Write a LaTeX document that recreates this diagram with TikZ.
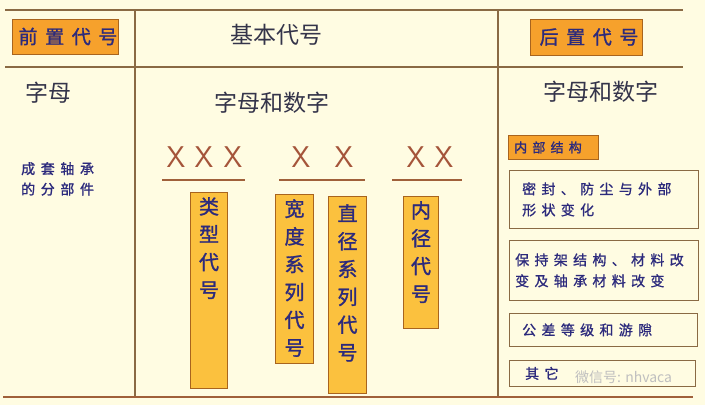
\documentclass[tikz,border=0pt]{standalone}
\usepackage{fontspec}
\usepackage{tikz}
\usetikzlibrary{calc}
\usetikzlibrary{positioning}
\newfontfamily\cjk{Noto Sans CJK SC}
\newfontfamily\cjkwide{Noto Sans CJK SC}[LetterSpace=38,FakeBold=1]
\newfontfamily\cjkbold{Noto Sans CJK SC}[LetterSpace=40,FakeBold=1.4]
\newfontfamily\cjkfat{Noto Sans CJK SC}[FakeBold=1.4]
\definecolor{paper}{HTML}{FFFCE2}
\definecolor{rule}{HTML}{8A6A44}
\definecolor{botrule}{HTML}{A0603A}
\definecolor{tagfill}{HTML}{F6A12C}
\definecolor{colfill}{HTML}{FBC13E}
\definecolor{colframe}{HTML}{A8641E}
\definecolor{navy}{HTML}{2C2A7C}
\definecolor{headtext}{HTML}{34344A}
\definecolor{crossred}{HTML}{A5553A}

\begin{document}
\begin{tikzpicture}[x=1pt, y=-1pt,
    table line/.style={draw=rule, line width=1.1pt},
    tag box/.style={draw=colframe, fill=tagfill, line width=0.9pt, inner sep=0pt, text=navy},
    col box/.style={draw=colframe, fill=colfill, line width=1pt, inner sep=0pt},
    col text/.style={text=navy, align=center, inner sep=0pt, anchor=north, font=\cjkfat\fontsize{20}{27.8}\selectfont},
    note box/.style={draw=rule, line width=0.8pt, inner sep=0pt},
    note text/.style={text=navy, align=left, inner sep=0pt, anchor=west, font=\cjkwide\fontsize{14}{21}\selectfont},
    head/.style={text=headtext, inner sep=0pt, font=\cjk\fontsize{23}{26}\selectfont},
    cross/.style={text=crossred, inner sep=0pt, font=\sffamily\fontsize{30}{30}\selectfont},
    underline/.style={draw=botrule, line width=1.2pt},
    ]

%% background and frame
\useasboundingbox (0,0) rectangle (705,405);
\fill[paper] (0,0) rectangle (705,405);
\coordinate (tl) at (5,10);   \coordinate (tr) at (683,10);
\coordinate (ml) at (5,67);   \coordinate (mr) at (683,67);
\coordinate (bl) at (3,397);  \coordinate (br) at (693,397);
\coordinate (v1t) at (135,10); \coordinate (v1b) at (135,397);
\coordinate (v2t) at (498,10); \coordinate (v2b) at (498,397);

\draw[table line] (tl) -- (tr);
\draw[table line] (ml) -- (mr);
\draw[table line] (v1t) -- (v1b);
\draw[table line] (v2t) -- (v2b);
\draw[draw=botrule, line width=1.6pt] (bl) -- (br);

%% header row
\node[tag box, minimum width=106, minimum height=35] (pre) at (65,36.5) {};
\node[text=navy, inner sep=0pt, font=\cjkbold\fontsize{19}{22}\selectfont] at ($(pre.center)+(3,0)$) {前置代号};
\node[head] (basic) at (276,35) {基本代号};
\node[tag box, minimum width=112, minimum height=36] (post) at (586,37) {};
\node[text=navy, inner sep=0pt, font=\cjkbold\fontsize{19}{22}\selectfont] at ($(post.center)+(3,0)$) {后置代号};

%% left column
\node[head] (letters) at (49,93) {字母};
\node[text=navy, align=left, inner sep=0pt, anchor=north west, font=\cjkbold\fontsize{14}{20.5}\selectfont] (parts) at (21,162) {成套轴承\\的分部件};

%% middle column
\node[head] (mixed) at (272,103) {字母和数字};
\node[cross] (x1) at (176,157) {X};
\node[cross] (x2) at (204,157) {X};
\node[cross] (x3) at (233,157) {X};
\node[cross] (x4) at (301,157) {X};
\node[cross] (x5) at (344,157) {X};
\node[cross] (x6) at (416,157) {X};
\node[cross] (x7) at (444,157) {X};
\draw[underline] (162,180) -- (245,180);
\draw[underline] (279,180) -- (365,180);
\draw[underline] (392,180) -- (462,180);

\node[col box, anchor=north west, minimum width=37, minimum height=196] (type) at (190,192) {};
\node[col text] at ($(type.north)+(0,5)$) {类\\型\\代\\号};
\node[col box, anchor=north west, minimum width=38, minimum height=169] (width) at (275,194) {};
\node[col text] at ($(width.north)+(0,5)$) {宽\\度\\系\\列\\代\\号};
\node[col box, anchor=north west, minimum width=38, minimum height=197] (diam) at (328,196) {};
\node[col text] at ($(diam.north)+(0,8)$) {直\\径\\系\\列\\代\\号};
\node[col box, anchor=north west, minimum width=35, minimum height=132] (bore) at (403,196) {};
\node[col text] at ($(bore.north)+(0,5)$) {内\\径\\代\\号};

%% right column
\node[head] (mixedr) at (601,92) {字母和数字};
\node[tag box, anchor=north west, minimum width=90, minimum height=24] (inner) at (508,135) {};
\node[note text, font=\cjkbold\fontsize{13}{16}\selectfont] at ($(inner.west)+(6,0)$) {内部结构};
\node[note box, anchor=north west, minimum width=189, minimum height=58] (seal) at (509,170) {};
\node[note text] at ($(seal.west)+(13,0)$) {密封、防尘与外部\\形状变化};
\node[note box, anchor=north west, minimum width=189, minimum height=60] (cage) at (509,240) {};
\node[note text] at ($(cage.west)+(6,0)$) {保持架结构、材料改\\变及轴承材料改变};
\node[note box, anchor=north west, minimum width=188, minimum height=33] (tol) at (509,313) {};
\node[note text] at ($(tol.west)+(13,0)$) {公差等级和游隙};
\node[note box, anchor=north west, minimum width=186, minimum height=26] (other) at (509,360) {};
\node[note text] at ($(other.west)+(16,0)$) {其它};
\node[text=black!25, inner sep=0pt, anchor=west, font=\cjk\fontsize{14}{16}\selectfont] (mark) at (575,377) {微信号: nhvaca};

\end{tikzpicture}
\end{document}
